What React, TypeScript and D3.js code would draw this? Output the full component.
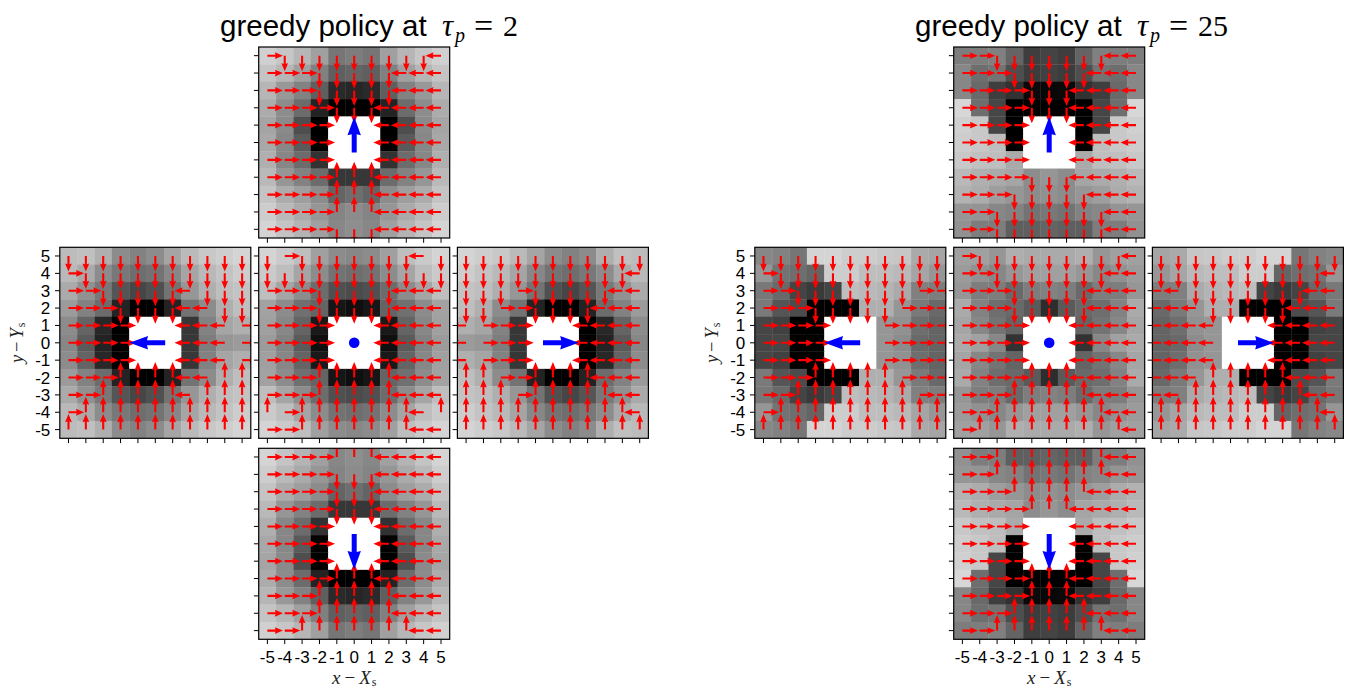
import React from "react";
import * as d3 from "d3";

const TICKS = [-5, -4, -3, -2, -1, 0, 1, 2, 3, 4, 5];
const W = 255;

const T1_DIRS = ["RDDDDDDDDDL","RRRDDDDDLLL","RRRDDDDDLLL","RRRRDDDLLLL","RRRR...LLLL","RRRR...LLLL","RRRR...LLLL","RRRRUUULLLL","RRRRUUULLLL","RRRRUUULLLL","RRRRDDDLLLL"];
const C1_DIRS = ["DRDDDDDDDLD","DDDDDDDDDDD","RRRDDDDDLLL","RRRDDDDDLLL","RRRR...LLLL","RRRR...LLLL","RRRR...LLLL","RRRUUUUULLL","RRRUUUUULLL","URUUUUUUULU","RRUUUUUUULL"];
const L1_DIRS = ["DDDDDDDDDDD","RDDDDDDDDDD","RRDDDDDLDDD","RRRDDDDLLDD","RRRR...LLLR","RRRR...LLLR","RRRR...LLLR","RRRUUUULLUU","RRUUUUULUUU","RUUUUUUUUUU","UUUUUUUUUUU"];
const R1_DIRS = ["DDDDDDDDDDD","DDDDDDDDDDL","DDDRDDDDDLL","DDRRDDDDLLL","LRRR...LLLL","LRRR...LLLL","LRRR...LLLL","UURRUUUULLL","UUURUUUUULL","UUUUUUUUUUL","UUUUUUUUUUU"];
const B1_DIRS = ["RRRRUUULLLL","RRRRDDDLLLL","RRRRDDDLLLL","RRRRDDDLLLL","RRRR...LLLL","RRRR...LLLL","RRRR...LLLL","RRRRUUULLLL","RRRUUUUULLL","RRRUUUUULLL","RRUUUUUUULL"];
const T2_DIRS = ["RRDDDDDDDLL","RRRDDDDDLLL","RRRRDDDLLLL","RRRRDDDLLLL","RRRR...LLLL","RRRR...LLLL","RRRR...LLLL","RRRRDDDLLLL","RRRDDDDDLLL","RRDDDDDDDLL","RRDDDDDDDLL"];
const C2_DIRS = ["RDDDDDDDDDL","RRDDDDDDDLL","RRRDDDDDLLL","RRRDDDDDLLL","RRRR...LLLL","RRRR...LLLL","RRRR...LLLL","RRRRUUULLLL","RRRUUUUULLL","RRUUUUUUULL","RUUUUUUUUUL"];
const L2_DIRS = ["DDDDDDDDDDD","RDDDDDDDDDD","RRDDDDDDDRR","RRRDDDDDRRR","RRRR...RRRR","RRRR...RRRR","RRRR...RRRR","RRRUUUUURRR","RRUUUUUUURR","RUUUUUUUUUU","UUUUUUUUUUU"];
const R2_DIRS = ["DDDDDDDDDDD","DDDDDDDDDDL","LLDDDDDDDLL","LLLDDDDDLLL","LLLL...LLLL","LLLL...LLLL","LLLL...LLLL","LLLUUUUULLL","LLUUUUUUULL","UUUUUUUUUUL","UUUUUUUUUUU"];
const B2_DIRS = ["RRUUUUUUULL","RRUUUUUUULL","RRRUUUUULLL","RRRRUUULLLL","RRRR...LLLL","RRRR...LLLL","RRRR...LLLL","RRRRUUULLLL","RRRRUUULLLL","RRRUUUUULLL","RRUUUUUUULL"];

const T1_GRAY = [
  [208,198,182,160,118,125,118,160,182,198,208],
  [196,182,160,128,95,100,95,128,160,182,196],
  [182,152,130,95,42,38,42,95,130,152,182],
  [172,140,108,35,0,0,0,35,108,140,172],
  [165,138,78,0,W,W,W,0,78,138,165],
  [168,135,90,0,W,W,W,0,90,135,168],
  [175,135,108,50,W,W,W,50,108,135,175],
  [185,150,130,108,55,55,55,108,130,150,185],
  [196,172,158,140,100,110,100,140,158,172,196],
  [205,185,170,150,132,140,132,150,170,185,205],
  [212,196,180,160,135,142,135,160,180,196,212],
];
const C1_GRAY = [
  [212,202,190,160,140,135,140,160,190,202,212],
  [202,190,165,140,115,110,115,140,165,190,202],
  [190,165,140,108,80,75,80,108,140,165,190],
  [162,140,112,100,22,15,22,100,112,140,162],
  [160,135,100,25,W,W,W,25,100,135,160],
  [155,130,90,15,W,W,W,15,90,130,155],
  [160,135,100,25,W,W,W,25,100,135,160],
  [162,140,112,100,22,15,22,100,112,140,162],
  [190,165,140,108,80,75,80,108,140,165,190],
  [202,190,165,140,115,110,115,140,165,190,202],
  [212,202,190,160,140,135,140,160,190,202,212],
];
const L1_GRAY = [
  [188,192,175,140,130,140,165,186,200,206,212],
  [185,170,140,120,110,115,135,165,185,195,205],
  [170,145,120,85,70,80,115,150,175,190,195],
  [155,130,108,35,0,0,35,115,140,175,190],
  [140,100,40,0,W,W,W,55,130,165,175],
  [135,90,35,0,W,W,W,55,125,150,155],
  [140,100,40,0,W,W,W,55,130,165,175],
  [155,130,108,35,0,0,35,115,140,175,190],
  [170,145,120,85,70,80,115,150,175,190,195],
  [185,170,140,120,110,115,135,165,185,195,205],
  [188,192,175,140,130,140,165,186,200,206,212],
];
const R1_GRAY = [
  [212,206,200,186,165,140,130,140,175,192,188],
  [205,195,185,165,135,115,110,120,140,170,185],
  [195,190,175,150,115,80,70,85,120,145,170],
  [190,175,140,115,35,0,0,35,108,130,155],
  [175,165,130,55,W,W,W,0,40,100,140],
  [155,150,125,55,W,W,W,0,35,90,135],
  [175,165,130,55,W,W,W,0,40,100,140],
  [190,175,140,115,35,0,0,35,108,130,155],
  [195,190,175,150,115,80,70,85,120,145,170],
  [205,195,185,165,135,115,110,120,140,170,185],
  [212,206,200,186,165,140,130,140,175,192,188],
];
const B1_GRAY = [
  [212,196,180,160,135,142,135,160,180,196,212],
  [205,185,170,150,132,140,132,150,170,185,205],
  [196,172,158,140,100,110,100,140,158,172,196],
  [185,150,130,108,55,55,55,108,130,150,185],
  [175,135,108,50,W,W,W,50,108,135,175],
  [168,135,90,0,W,W,W,0,90,135,168],
  [165,138,78,0,W,W,W,0,78,138,165],
  [172,140,108,35,0,0,0,35,108,140,172],
  [182,152,130,95,42,38,42,95,130,152,182],
  [196,182,160,128,95,100,95,128,160,182,196],
  [208,198,182,160,118,125,118,160,182,198,208],
];
const T2_GRAY = [
  [125,125,128,100,62,68,62,100,128,125,125],
  [135,110,115,78,60,65,60,78,115,110,135],
  [135,105,62,50,10,8,10,50,62,105,135],
  [215,110,70,0,0,0,0,0,70,110,215],
  [208,200,70,0,W,W,W,0,70,200,208],
  [205,200,190,0,W,W,W,0,190,200,205],
  [200,192,190,170,W,W,W,170,190,192,200],
  [185,175,170,165,140,150,140,165,170,175,185],
  [178,172,158,150,140,145,140,150,158,172,178],
  [150,148,135,130,115,120,115,130,135,148,150],
  [145,125,125,95,95,100,95,95,125,125,145],
];
const C2_GRAY = [
  [160,160,150,175,170,170,170,175,150,160,160],
  [155,145,135,150,160,160,160,150,135,145,155],
  [150,125,125,105,125,130,125,105,125,125,150],
  [170,130,110,105,90,45,90,105,110,130,170],
  [165,135,115,100,W,W,W,100,115,135,165],
  [170,160,135,50,W,W,W,50,135,160,170],
  [165,135,115,100,W,W,W,100,115,135,165],
  [170,130,110,105,90,45,90,105,110,130,170],
  [150,125,125,105,125,130,125,105,125,125,150],
  [155,145,135,150,160,160,160,150,135,145,155],
  [160,160,150,175,170,170,170,175,150,160,160],
];
const L2_GRAY = [
  [135,130,118,212,212,205,205,200,198,170,165],
  [150,115,110,100,205,205,190,190,185,165,150],
  [120,105,68,58,68,190,185,180,170,128,125],
  [122,85,76,0,0,0,175,175,150,122,105],
  [70,65,0,0,W,W,W,150,145,110,100],
  [70,70,0,0,W,W,W,150,140,105,100],
  [70,65,0,0,W,W,W,150,145,110,100],
  [122,85,76,0,0,0,175,175,150,122,105],
  [120,105,68,58,68,190,185,180,170,128,125],
  [150,115,110,100,205,205,190,190,185,165,150],
  [135,130,118,212,212,205,205,200,198,170,165],
];
const R2_GRAY = [
  [165,170,198,200,205,205,212,212,118,130,135],
  [150,165,185,190,190,205,205,100,110,115,150],
  [125,128,170,180,185,190,68,58,68,105,120],
  [105,122,150,175,175,0,0,0,76,85,122],
  [100,110,145,150,W,W,W,0,0,65,70],
  [100,105,140,150,W,W,W,0,0,70,70],
  [100,110,145,150,W,W,W,0,0,65,70],
  [105,122,150,175,175,0,0,0,76,85,122],
  [125,128,170,180,185,190,68,58,68,105,120],
  [150,165,185,190,190,205,205,100,110,115,150],
  [165,170,198,200,205,205,212,212,118,130,135],
];
const B2_GRAY = [
  [145,125,125,95,95,100,95,95,125,125,145],
  [150,148,135,130,115,120,115,130,135,148,150],
  [178,172,158,150,140,145,140,150,158,172,178],
  [185,175,170,165,140,150,140,165,170,175,185],
  [200,192,190,170,W,W,W,170,190,192,200],
  [205,200,190,0,W,W,W,0,190,200,205],
  [208,200,70,0,W,W,W,0,70,200,208],
  [215,110,70,0,0,0,0,0,70,110,215],
  [135,105,62,50,10,8,10,50,62,105,135],
  [135,110,115,78,60,65,60,78,115,110,135],
  [125,125,128,100,62,68,62,100,128,125,125],
];

type Ag = "U" | "D" | "L" | "R" | "O";
type Panel = { id: string; x0: number; y0: number; dirs: string[]; gray: number[][]; agent: Ag; yLabels?: boolean; xLabels?: boolean };

const SIZE = 191;
const panels: Panel[] = [
  { id: "t1", x0: 258.7, y0: 47, dirs: T1_DIRS, gray: T1_GRAY, agent: "U" },
  { id: "l1", x0: 59.8, y0: 247.3, dirs: L1_DIRS, gray: L1_GRAY, agent: "L", yLabels: true },
  { id: "c1", x0: 258.7, y0: 247.3, dirs: C1_DIRS, gray: C1_GRAY, agent: "O" },
  { id: "r1", x0: 457.4, y0: 247.3, dirs: R1_DIRS, gray: R1_GRAY, agent: "R" },
  { id: "b1", x0: 258.7, y0: 448.3, dirs: B1_DIRS, gray: B1_GRAY, agent: "D", xLabels: true },
  { id: "t2", x0: 953.7, y0: 47, dirs: T2_DIRS, gray: T2_GRAY, agent: "U" },
  { id: "l2", x0: 754.8, y0: 247.3, dirs: L2_DIRS, gray: L2_GRAY, agent: "L", yLabels: true },
  { id: "c2", x0: 953.7, y0: 247.3, dirs: C2_DIRS, gray: C2_GRAY, agent: "O" },
  { id: "r2", x0: 1152.4, y0: 247.3, dirs: R2_DIRS, gray: R2_GRAY, agent: "R" },
  { id: "b2", x0: 953.7, y0: 448.3, dirs: B2_DIRS, gray: B2_GRAY, agent: "D", xLabels: true },
];

const VEC: Record<string, [number, number]> = { U: [0, -1], D: [0, 1], L: [-1, 0], R: [1, 0] };

function arrowPath(cx: number, cy: number, d: [number, number], len: number, sw: number, hw: number, hl: number, ind: number) {
  const [ux, uy] = d;
  const nx = -uy, ny = ux;
  const pt = (a: number, b: number): [number, number] => [cx + ux * a + nx * b, cy + uy * a + ny * b];
  const pts = [pt(0, sw / 2), pt(len - ind, sw / 2), pt(len - hl, hw / 2), pt(len, 0), pt(len - hl, -hw / 2), pt(len - ind, -sw / 2), pt(0, -sw / 2)];
  const p = d3.path();
  pts.forEach((q, i) => (i ? p.lineTo(q[0], q[1]) : p.moveTo(q[0], q[1])));
  p.closePath();
  return p.toString();
}

const SANS = "'Liberation Sans', Arial, sans-serif";
const SERIF = "'Liberation Serif', serif";

function PanelView({ p }: { p: Panel }) {
  const x = d3.scaleLinear().domain([-5.5, 5.5]).range([p.x0, p.x0 + SIZE]);
  const y = d3.scaleLinear().domain([-5.5, 5.5]).range([p.y0 + SIZE, p.y0]);
  const cw = x(1) - x(0);
  const color = (g: number) => d3.rgb(g, g, g).formatHex();
  return (
    <g>
      <clipPath id={"clip-" + p.id}>
        <rect x={p.x0} y={p.y0} width={SIZE} height={SIZE} />
      </clipPath>
      {p.gray.map((row, r) =>
        row.map((g, c) => (
          <rect key={r + "-" + c} x={x(TICKS[c] - 0.5)} y={y(TICKS[10 - r] + 0.5)} width={cw + 0.3} height={cw + 0.3} fill={color(g)} clipPath={`url(#clip-${p.id})`} />
        ))
      )}
      <g clipPath={`url(#clip-${p.id})`}>
        {p.dirs.map((row, r) =>
          row.split("").map((ch, c) =>
            VEC[ch] ? <path key={r + "-" + c} d={arrowPath(x(TICKS[c]), y(TICKS[10 - r]), VEC[ch], 15.6, 2.1, 6.8, 8.2, 7.4)} fill="#ff0000" /> : null
          )
        )}
      </g>
      {p.agent === "O" ? (
        <circle cx={x(0)} cy={y(0)} r={5.3} fill="#0000ff" />
      ) : (
        <path
          d={(() => {
            const v = VEC[p.agent];
            const sx = x(0) - v[0] * 0.57 * cw;
            const sy = y(0) - v[1] * 0.57 * cw;
            return arrowPath(sx, sy, v, 35.7, 5, 13.4, 18.5, 17.5);
          })()}
          fill="#0000ff"
        />
      )}
      <rect x={p.x0} y={p.y0} width={SIZE} height={SIZE} fill="none" stroke="#000" strokeWidth={1.2} />
      {TICKS.map((t) => (
        <g key={t}>
          <line x1={p.x0} x2={p.x0 - 4.8} y1={y(t)} y2={y(t)} stroke="#000" strokeWidth={1} />
          <line x1={x(t)} x2={x(t)} y1={p.y0 + SIZE} y2={p.y0 + SIZE + 4.8} stroke="#000" strokeWidth={1} />
          {p.yLabels ? (
            <text x={p.x0 - 9.5} y={y(t) + 6} textAnchor="end" fontFamily={SANS} fontSize={17} fill="#000">{t}</text>
          ) : null}
          {p.xLabels ? (
            <text x={x(t)} y={p.y0 + SIZE + 24} textAnchor="middle" fontFamily={SANS} fontSize={17} fill="#000">{t}</text>
          ) : null}
        </g>
      ))}
      {p.xLabels ? (
        <text x={x(0)} y={p.y0 + SIZE + 45} textAnchor="middle" fontFamily={SERIF} fontSize={19} fill="#222">
          <tspan fontStyle="italic">x</tspan><tspan dx={4}>−</tspan><tspan dx={4} fontStyle="italic">X</tspan><tspan fontSize={12} dy={1.5} dx={1}>s</tspan>
        </text>
      ) : null}
      {p.yLabels ? (
        <text transform={`translate(${p.x0 - 37},${y(0)}) rotate(-90)`} textAnchor="middle" fontFamily={SERIF} fontSize={18.5} fill="#222">
          <tspan fontStyle="italic">y</tspan><tspan dx={3}>−</tspan><tspan dx={3} fontStyle="italic">Y</tspan><tspan fontSize={12} dy={2.5} dx={1}>s</tspan>
        </text>
      ) : null}
    </g>
  );
}

function Title({ x, tau }: { x: number; tau: string }) {
  return (
    <g fill="#000">
      <text x={x} y={36} fontSize={29.5} fontFamily={SANS}>greedy policy at</text>
      <text x={x + 222} y={36} fontSize={31} fontFamily={SERIF} fontStyle="italic">τ</text>
      <text x={x + 235} y={42} fontSize={20} fontFamily={SERIF} fontStyle="italic">p</text>
      <text x={x + 254} y={37} fontSize={34} fontFamily={SERIF}>=</text>
      <text x={x + 283} y={36} fontSize={30} fontFamily={SERIF}>{tau}</text>
    </g>
  );
}

export default function App() {
  return (
    <svg width={1351} height={688} viewBox="0 0 1351 688" style={{ position: "absolute", left: 0, top: 0, background: "#fff" }}>
      <Title x={220} tau="2" />
      <Title x={915} tau="25" />
      {panels.map((p) => (
        <PanelView key={p.id} p={p} />
      ))}
    </svg>
  );
}
